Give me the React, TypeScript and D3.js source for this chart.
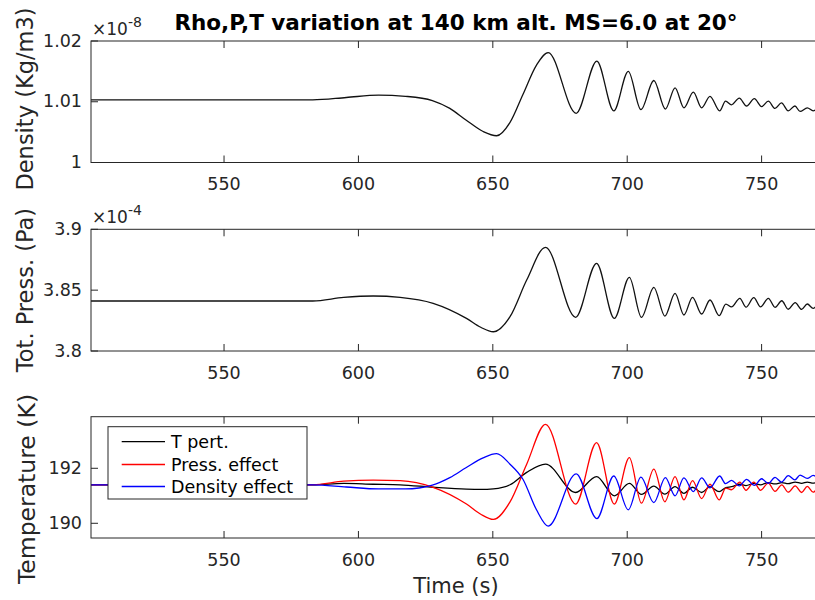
import React from "react";
import * as d3 from "d3";

// ---------------- data ----------------
const timeTicks = [550, 600, 650, 700, 750];

// Density (x1e-8 Kg/m3)
const densTime = [500, 583, 595.5, 607.5, 617.5, 627.5, 634, 640, 646.4, 651.4, 656.4, 661.2, 666.2, 670.6, 681, 688.7, 695, 700.4, 705.1, 709.9, 714.2, 717.8, 721.1, 724.6, 727.7, 730.8, 734.4, 736.6, 738.8, 741.7, 744.4, 747.3, 750, 752.5, 755, 757.4, 759.9, 762.4, 764.3, 767, 769.2, 771.4, 773.5];
const densVal = [1.0103, 1.0103, 1.0107, 1.0111, 1.0109, 1.0102, 1.0089, 1.007, 1.0051, 1.0044, 1.0066, 1.0112, 1.016, 1.0181, 1.0081, 1.0167, 1.0085, 1.015, 1.0087, 1.0135, 1.0088, 1.0123, 1.009, 1.0116, 1.009, 1.0109, 1.0085, 1.0101, 1.0095, 1.0106, 1.0093, 1.0105, 1.0092, 1.0101, 1.0089, 1.0098, 1.0085, 1.0093, 1.0084, 1.009, 1.0085, 1.0089, 1.0085];

// Total pressure (x1e-4 Pa)
const presTime = [500, 583, 594.5, 605.5, 615.5, 627.8, 640.2, 645.5, 650.2, 656.4, 662.6, 669.6, 680.8, 688.6, 695.2, 700.8, 705.3, 709.9, 714, 717.8, 721.1, 724.3, 727.7, 730.8, 734.2, 736.7, 738.8, 741.9, 744.2, 747.1, 749.6, 752.5, 755, 757.5, 759.9, 762.5, 764.9, 767, 769.2, 771.4, 773.5];
const presVal = [3.8411, 3.8411, 3.844, 3.8452, 3.8441, 3.8392, 3.8268, 3.8195, 3.8158, 3.8282, 3.8583, 3.8852, 3.8277, 3.872, 3.8268, 3.8605, 3.8277, 3.8523, 3.8287, 3.8474, 3.8296, 3.8441, 3.8304, 3.8419, 3.829, 3.8385, 3.8362, 3.8433, 3.836, 3.8438, 3.8362, 3.8433, 3.8359, 3.8413, 3.8343, 3.8397, 3.8342, 3.8386, 3.835, 3.8385, 3.835];

// Temperature (K): T pert. and Press. effect sampled at presTime, Density effect at densTime
const tPertVal = [191.4, 191.4, 191.45, 191.42, 191.4, 191.31, 191.24, 191.23, 191.25, 191.4, 191.85, 192.15, 191.12, 191.7, 191.0, 191.45, 191.05, 191.35, 191.06, 191.33, 191.09, 191.31, 191.12, 191.33, 191.15, 191.3, 191.33, 191.42, 191.37, 191.45, 191.4, 191.48, 191.43, 191.48, 191.44, 191.5, 191.45, 191.5, 191.46, 191.5, 191.46];
const pressEffVal = [191.4, 191.4, 191.53, 191.57, 191.55, 191.31, 190.7, 190.33, 190.14, 190.78, 192.15, 193.6, 190.7, 192.93, 190.7, 192.39, 190.73, 191.97, 190.78, 191.7, 190.85, 191.55, 190.9, 191.42, 190.85, 191.28, 191.22, 191.5, 191.2, 191.5, 191.2, 191.46, 191.16, 191.4, 191.13, 191.36, 191.12, 191.34, 191.13, 191.32, 191.13];
const densEffVal = [191.4, 191.4, 191.32, 191.25, 191.25, 191.39, 191.66, 192.02, 192.38, 192.53, 192.15, 191.6, 190.5, 189.9, 191.8, 190.17, 191.72, 190.49, 191.68, 190.75, 191.66, 191.0, 191.65, 191.15, 191.65, 191.29, 191.72, 191.44, 191.56, 191.36, 191.6, 191.38, 191.62, 191.45, 191.67, 191.5, 191.73, 191.58, 191.75, 191.63, 191.74, 191.65, 191.74];

const densTicks = [1, 1.01, 1.02];
const presTicks = [3.8, 3.85, 3.9];
const tempTicks = [190, 192];

const legendLabels = ["T pert.", "Press. effect", "Density effect"];

// ---------------- layout ----------------
const W = 815;
const H = 600;
const X0 = 91;
const X1 = 821;
const FONT = "'DejaVu Sans', Verdana, sans-serif";
const AX = "#262626";

const x = d3.scaleLinear().domain([500.5, 772.1]).range([X0, X1]);

type Series = { t: number[]; v: number[]; color: string };

const panels = [
  {
    top: 41, bottom: 162.5, domain: [1.0, 1.02], ticks: densTicks,
    label: "Density (Kg/m3)", labelX: 33, labelY: 99, labelSize: 22.5, exp: "-8",
    series: [{ t: densTime, v: densVal, color: "#111" }] as Series[],
  },
  {
    top: 229.3, bottom: 351, domain: [3.8, 3.9], ticks: presTicks,
    label: "Tot. Press. (Pa)", labelX: 32.5, labelY: 290, labelSize: 22.5, exp: "-4",
    series: [{ t: presTime, v: presVal, color: "#111" }] as Series[],
  },
  {
    top: 416.7, bottom: 538, domain: [189.465, 193.876], ticks: tempTicks,
    label: "Temperature (K)", labelX: 35, labelY: 489, labelSize: 23.5, exp: null,
    series: [
      { t: presTime, v: tPertVal, color: "#000000" },
      { t: presTime, v: pressEffVal, color: "#ff0000" },
      { t: densTime, v: densEffVal, color: "#0000ff" },
    ] as Series[],
  },
];

const fmt = (v: number) => String(+v.toFixed(4));

function Panel({ p, idx }: { p: (typeof panels)[number]; idx: number }) {
  const y = d3.scaleLinear().domain(p.domain).range([p.bottom, p.top]);
  const line = (s: Series) =>
    d3
      .line<number>()
      .x((_, i) => x(s.t[i]))
      .y((d) => y(d))
      .curve(d3.curveMonotoneX)(s.v) || "";
  const clipId = `clip${idx}`;
  const tl = 7;
  return (
    <g>
      <defs>
        <clipPath id={clipId}>
          <rect x={X0} y={p.top} width={X1 - X0} height={p.bottom - p.top} />
        </clipPath>
      </defs>
      <rect x={X0} y={p.top} width={X1 - X0} height={p.bottom - p.top} fill="#fff" stroke="none" />
      <g clipPath={`url(#${clipId})`}>
        {p.series.map((s, i) => (
          <path key={i} d={line(s)} fill="none" stroke={s.color} strokeWidth={1.3} strokeLinejoin="round" />
        ))}
      </g>
      <rect x={X0} y={p.top} width={X1 - X0} height={p.bottom - p.top} fill="none" stroke={AX} strokeWidth={1} />
      {timeTicks.map((t) => (
        <g key={t}>
          <line x1={x(t)} x2={x(t)} y1={p.bottom} y2={p.bottom - tl} stroke={AX} strokeWidth={1} />
          <line x1={x(t)} x2={x(t)} y1={p.top} y2={p.top + tl} stroke={AX} strokeWidth={1} />
          <text x={x(t)} y={p.bottom + 27.5} textAnchor="middle" fontSize={17.5} fontFamily={FONT} fill={AX}>
            {t}
          </text>
        </g>
      ))}
      {p.ticks.map((v) => (
        <g key={v}>
          <line x1={X0} x2={X0 + tl} y1={y(v)} y2={y(v)} stroke={AX} strokeWidth={1} />
          <text x={X0 - 9} y={y(v) + 5.5} textAnchor="end" fontSize={17.5} fontFamily={FONT} fill={AX}>
            {fmt(v)}
          </text>
        </g>
      ))}
      <text
        transform={`translate(${p.labelX},${p.labelY}) rotate(-90)`}
        textAnchor="middle"
        fontSize={p.labelSize}
        fontFamily={FONT}
        fill={AX}
      >
        {p.label}
      </text>
      {p.exp && (
        <text x={92} y={p.top - 6} fontSize={17} fontFamily={FONT} fill={AX}>
          {"×10"}
          <tspan fontSize={14} dy={-8.5}>
            {p.exp}
          </tspan>
        </text>
      )}
    </g>
  );
}

export default function App() {
  const lp = panels[2];
  const legendRows = [441.7, 464.5, 486.5];
  return (
    <svg
      width={W}
      height={H}
      viewBox={`0 0 ${W} ${H}`}
      style={{ position: "absolute", left: 0, top: 0, background: "#fff" }}
    >
      <rect x={0} y={0} width={W} height={H} fill="#fff" />
      {panels.map((p, i) => (
        <Panel key={i} p={p} idx={i} />
      ))}
      <text x={456} y={30} textAnchor="middle" fontSize={21.5} fontWeight="bold" fontFamily={FONT} fill="#000">
        Rho,P,T variation at 140 km alt. MS=6.0 at 20°
      </text>
      <text x={456} y={593} textAnchor="middle" fontSize={21} fontFamily={FONT} fill={AX}>
        Time (s)
      </text>
      <g>
        <rect x={108} y={426.7} width={199} height={72.3} fill="#fff" stroke={AX} strokeWidth={1} />
        {legendLabels.map((lab, i) => (
          <g key={lab}>
            <line x1={121.7} x2={165} y1={legendRows[i]} y2={legendRows[i]} stroke={lp.series[i].color} strokeWidth={1.3} />
            <text x={171} y={legendRows[i] + 6} fontSize={17.5} fontFamily={FONT} fill="#000">
              {lab}
            </text>
          </g>
        ))}
      </g>
    </svg>
  );
}
